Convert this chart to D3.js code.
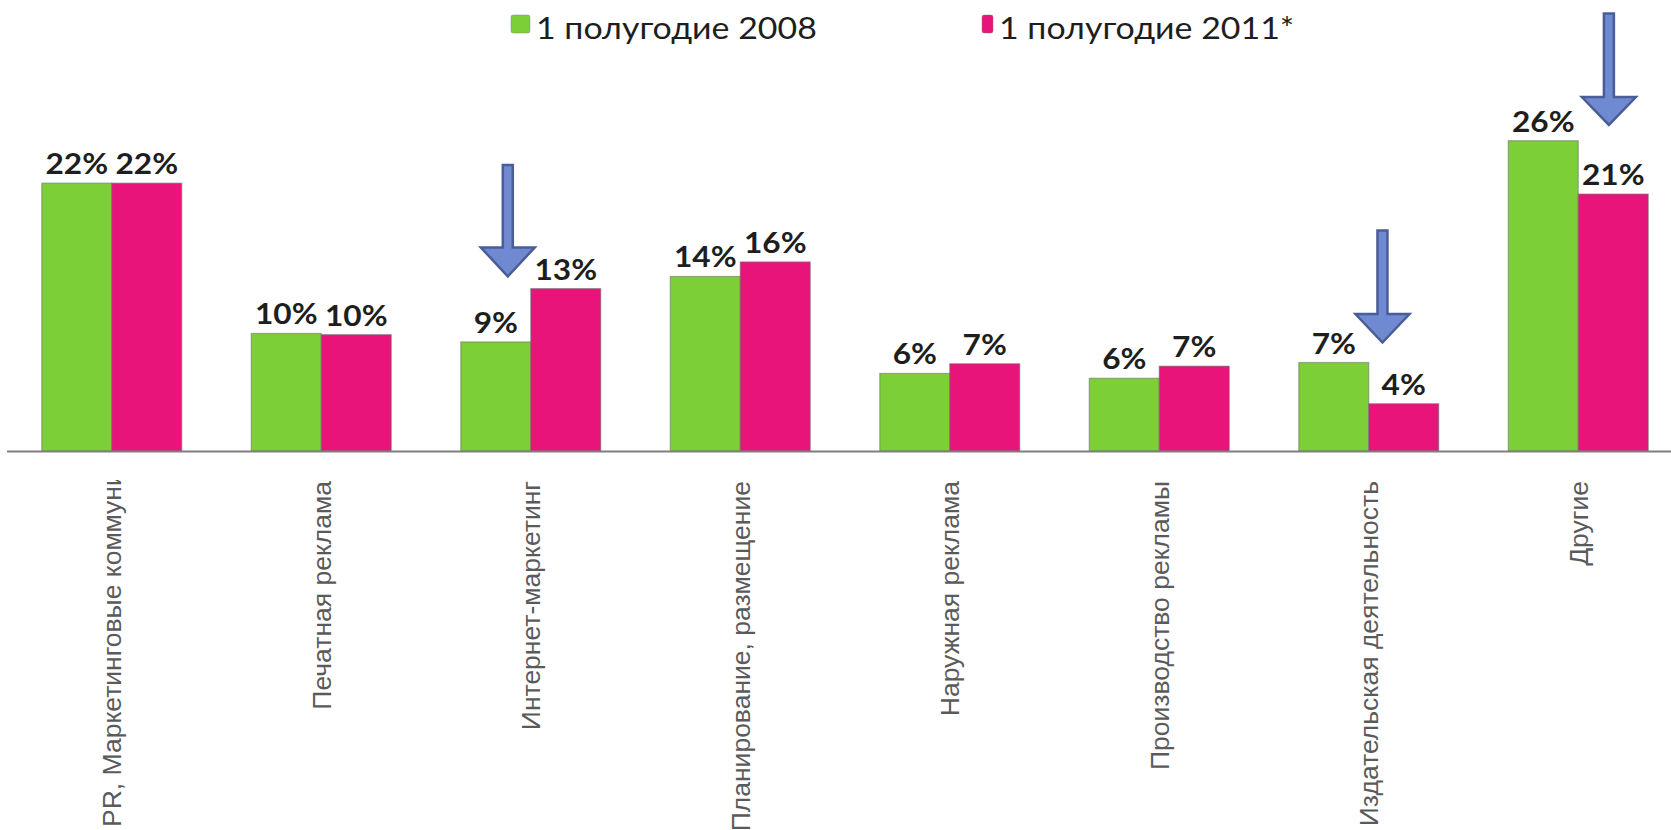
<!DOCTYPE html>
<html>
<head>
<meta charset="utf-8">
<script src="https://cdn.jsdelivr.net/npm/d3@7"></script>
<style>
  html, body { margin: 0; padding: 0; background: #ffffff; }
  svg { display: block; }
</style>
</head>
<body>
<svg id="chart" width="1671" height="830"></svg>
<script>
// ---------- data ----------
const categories = [
  "PR, Маркетинговые коммуникации",
  "Печатная реклама",
  "Интернет-маркетинг",
  "Планирование, размещение",
  "Наружная реклама",
  "Производство рекламы",
  "Издательская деятельность",
  "Другие"
];
const seriesNames = ["1 полугодие 2008", "1 полугодие 2011*"];
const values2008 = [22.1, 9.7, 9.0, 14.4, 6.4, 6.0, 7.3, 25.6];
const values2011 = [22.1, 9.6, 13.4, 15.6, 7.2, 7.0, 3.9, 21.2];
const seriesColors = ["#7ccf36", "#e8147a"];
// annotation arrows (category, relative position in group, value levels)
const arrowCats  = ["Интернет-маркетинг", "Издательская деятельность", "Другие"];
const arrowAt    = [0.336, 0.598, 0.719];
const arrowFrom  = [23.6, 18.2, 36.1];
const arrowHead  = [16.8, 11.3, 29.2];
const arrowTo    = [14.4, 8.95, 26.9];

// ---------- build table ----------
const seriesValues = [values2008, values2011];
const table = categories.map((c, i) => ({
  cat: c,
  vals: seriesNames.map((s, j) => ({ series: s, idx: j, value: seriesValues[j][i] }))
}));

const svg = d3.select("#chart");
const W = 1671, H = 830;

const x0 = d3.scaleBand().domain(categories).range([7, 1683])
  .paddingInner(0.332).paddingOuter(0.166);
const x1 = d3.scaleBand().domain(seriesNames).range([0, x0.bandwidth()]).padding(0);
const y = d3.scaleLinear().domain([0, 30]).range([451, 87.4]);

// ---------- bars ----------
const groups = svg.append("g").selectAll("g").data(table).join("g")
  .attr("transform", d => `translate(${x0(d.cat)},0)`);

groups.selectAll("rect").data(d => d.vals).join("rect")
  .attr("x", d => x1(d.series))
  .attr("y", d => y(d.value))
  .attr("width", x1.bandwidth())
  .attr("height", d => y(0) - y(d.value))
  .attr("fill", d => seriesColors[d.idx])
  .attr("stroke", "rgba(110,110,110,0.55)")
  .attr("stroke-width", 1.2);

// value labels
groups.selectAll("text.val").data(d => d.vals).join("text")
  .attr("class", "val")
  .attr("transform", d => `translate(${x1(d.series) + x1.bandwidth() / 2},${y(d.value) - 9}) scale(1.13,1)`)
  .attr("text-anchor", "middle")
  .attr("font-family", "Lato, 'Open Sans', sans-serif")
  .attr("font-weight", "bold")
  .attr("font-size", 28)
  .attr("fill", "#1e1e1e")
  .text(d => Math.round(d.value) + "%");

// ---------- axis ----------
const xAxis = d3.axisBottom(x0).tickSize(0).tickFormat("");
const axisG = svg.append("g").attr("transform", `translate(0,${y(0)})`).call(xAxis);
axisG.select(".domain").remove();
axisG.append("line")
  .attr("x1", 7).attr("x2", W).attr("y1", 0.5).attr("y2", 0.5)
  .attr("stroke", "#7f7f7f").attr("stroke-width", 2.2);

// category labels (rotated, anchored at the top; long label is truncated)
svg.append("defs").append("clipPath").attr("id", "labelClip")
  .append("rect").attr("x", 0).attr("y", 480).attr("width", W).attr("height", H - 480);

const labelG = svg.append("g").attr("clip-path", "url(#labelClip)");
labelG.selectAll("text").data(categories).join("text")
  .attr("transform", (d, i) => {
    const cx = x0(d) + x0.bandwidth() / 2;
    return i === 0 ? `translate(${cx},827) rotate(-90)` : `translate(${cx},481) rotate(-90)`;
  })
  .attr("text-anchor", (d, i) => i === 0 ? "start" : "end")
  .attr("dy", "0.36em")
  .attr("font-family", "'Liberation Sans', Arial, sans-serif")
  .attr("font-size", 26.5)
  .attr("fill", "#5a5a5a")
  .text(d => d);

// ---------- legend ----------
const legendX = [511, 982];
const legendW = [19, 11];
const legend = svg.append("g");
seriesNames.forEach((s, i) => {
  legend.append("rect")
    .attr("x", legendX[i]).attr("y", 15).attr("width", legendW[i]).attr("height", 18)
    .attr("rx", 2).attr("fill", seriesColors[i])
    .attr("stroke", "rgba(120,120,120,0.4)").attr("stroke-width", 1);
  legend.append("text")
    .attr("transform", `translate(${legendX[i] + legendW[i] + 6},38.5) scale(1.13,1)`)
    .attr("font-family", "Lato, 'Open Sans', sans-serif")
    .attr("font-size", 30)
    .attr("fill", "#1e1e1e")
    .text(s);
});

// ---------- arrows ----------
const arrowG = svg.append("g");
arrowCats.forEach((c, i) => {
  const cx = x0(c) + arrowAt[i] * x0.bandwidth();
  const top = y(arrowFrom[i]), hy = y(arrowHead[i]), tip = y(arrowTo[i]);
  const sw = 5, hw = 27;
  const p = d3.path();
  p.moveTo(cx - sw, top);
  p.lineTo(cx + sw, top);
  p.lineTo(cx + sw, hy);
  p.lineTo(cx + hw, hy);
  p.lineTo(cx, tip);
  p.lineTo(cx - hw, hy);
  p.lineTo(cx - sw, hy);
  p.closePath();
  arrowG.append("path")
    .attr("d", p.toString())
    .attr("fill", "#6f8ad0")
    .attr("stroke", "#4a5d98")
    .attr("stroke-width", 2.5)
    .attr("stroke-linejoin", "miter");
});
</script>
</body>
</html>
